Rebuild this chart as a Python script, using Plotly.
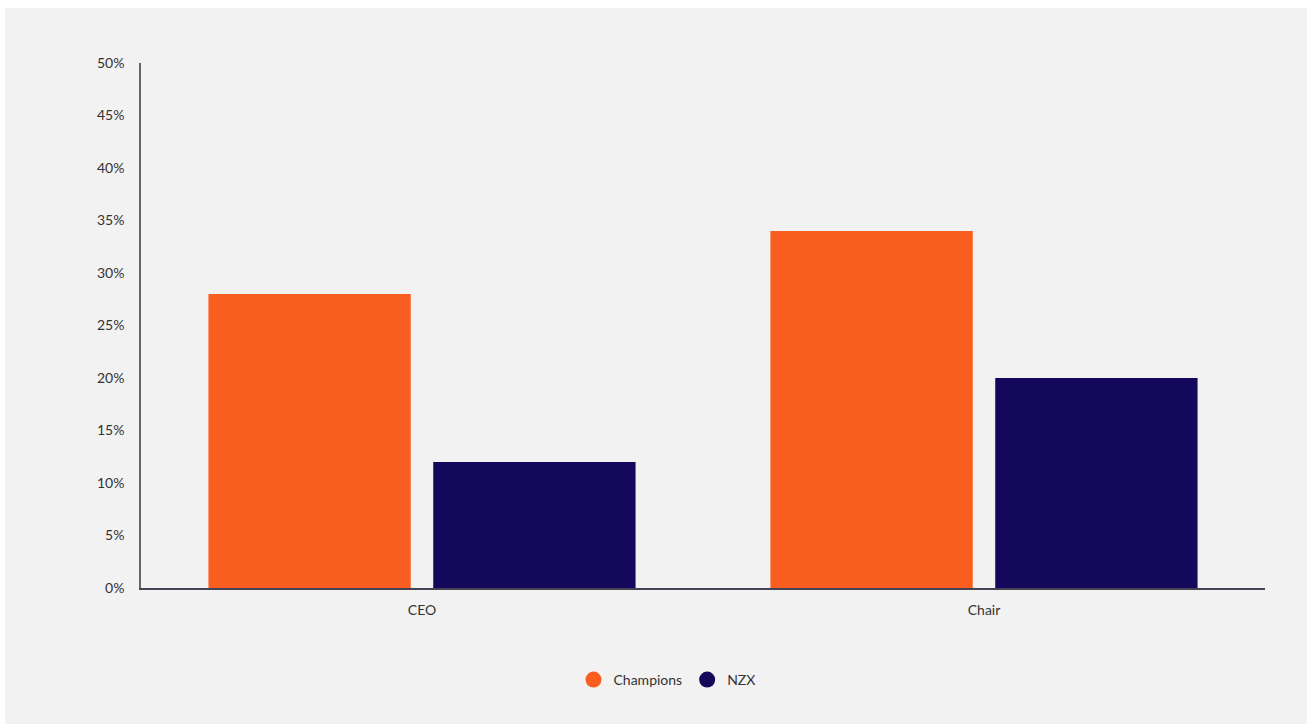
import plotly.graph_objects as go

categories = ["CEO", "Chair"]
champions = [28, 34]
nzx = [12, 20]
y_ticks = [0, 5, 10, 15, 20, 25, 30, 35, 40, 45, 50]
y_tick_labels = [f"{v}%" for v in y_ticks]

ORANGE = "#F95E20"
NAVY = "#13085A"
FONT = "Lato, 'Open Sans', sans-serif"

fig = go.Figure()
fig.add_trace(go.Bar(x=categories, y=champions, name="Champions",
                     marker=dict(color=ORANGE, line=dict(width=0)), showlegend=False))
fig.add_trace(go.Bar(x=categories, y=nzx, name="NZX",
                     marker=dict(color=NAVY, line=dict(width=0)), showlegend=False))
# legend entries with circle symbols
fig.add_trace(go.Scatter(x=[None], y=[None], mode="markers", name="Champions",
                         marker=dict(color=ORANGE, size=18, symbol="circle")))
fig.add_trace(go.Scatter(x=[None], y=[None], mode="markers", name="NZX",
                         marker=dict(color=NAVY, size=18, symbol="circle")))

W, H = 1307, 724
L, R, T, B = 141, 42, 63, 136
pw, ph = W - L - R, H - T - B

fig.update_layout(
    width=W, height=H,
    margin=dict(l=L, r=R, t=T, b=B, pad=0),
    paper_bgcolor="#ffffff",
    plot_bgcolor="rgba(0,0,0,0)",
    barmode="group", bargap=0.2, bargroupgap=0.1,
    font=dict(family=FONT, size=14, color="#333333"),
    xaxis=dict(showline=True, linecolor="#444455", linewidth=1.5, showgrid=False,
               ticks="outside", ticklen=8, tickcolor="rgba(0,0,0,0)",
               tickfont=dict(size=14, color="#333333"), zeroline=False,
               fixedrange=True),
    yaxis=dict(range=[0, 50], tickvals=y_ticks, ticktext=y_tick_labels,
               showline=True, linecolor="#666666", linewidth=1.5, showgrid=False,
               ticks="outside", ticklen=12, tickcolor="rgba(0,0,0,0)",
               zeroline=False, tickfont=dict(size=14, color="#333333")),
    legend=dict(orientation="h", x=(667 - L) / pw, xanchor="center",
                y=(T + ph - 680) / ph, yanchor="middle",
                font=dict(size=14, color="#333333"), bgcolor="rgba(0,0,0,0)",
                itemsizing="trace"),
    shapes=[dict(type="rect", xref="paper", yref="paper", layer="below",
                 x0=(5 - L) / pw, x1=(W + 5 - L) / pw,
                 y0=(T + ph - H - 5) / ph, y1=(T + ph - 8) / ph,
                 fillcolor="#f2f2f2", line=dict(width=0))],
)

fig.write_html("out.html")
